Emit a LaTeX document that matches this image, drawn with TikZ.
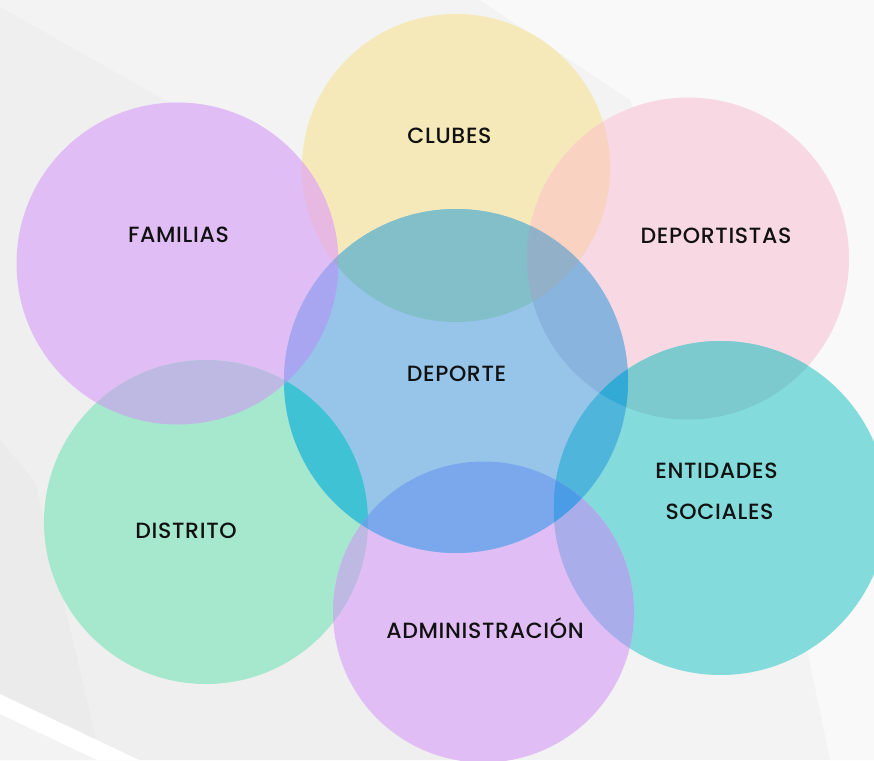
\documentclass[tikz,border=0pt]{standalone}
\usepackage{fontspec}
\setmainfont{Poppins}
\newfontfamily\lblfont{Poppins Medium}[LetterSpace=3]
\definecolor{bgA}{HTML}{F3F3F3}
\definecolor{bgDark}{HTML}{EFEFEF}
\definecolor{bgDarker}{HTML}{EBEBEB}
\definecolor{bgLight}{HTML}{F9F9F9}
\definecolor{cClub}{HTML}{F5E9BA}
\definecolor{cDepo}{HTML}{F7D8E3}
\definecolor{cFam}{HTML}{E1BDF5}
\definecolor{cDep}{HTML}{96C5E9}
\definecolor{cDist}{HTML}{A6E8CE}
\definecolor{cEnt}{HTML}{84DBDB}
\definecolor{cAdm}{HTML}{E1BDF5}
\definecolor{pClubFam}{HTML}{E6B8E2}
\definecolor{pClubDepo}{HTML}{F9D2C1}
\definecolor{pClubDep}{HTML}{83BFC8}
\definecolor{pFamDep}{HTML}{A8A6F0}
\definecolor{pDepoDep}{HTML}{88B4DE}
\definecolor{pFamDist}{HTML}{BEB9E3}
\definecolor{pDepDist}{HTML}{3FC3D4}
\definecolor{pDepoEnt}{HTML}{7CC9CE}
\definecolor{pDepEnt}{HTML}{4FB5DB}
\definecolor{pDepAdm}{HTML}{7BA7EC}
\definecolor{pDistAdm}{HTML}{BEB9E2}
\definecolor{pAdmEnt}{HTML}{A9AEEA}
\definecolor{tClubDepoDep}{HTML}{92B1C9}
\definecolor{tClubFamDep}{HTML}{9FA9D6}
\definecolor{tDepDepoEnt}{HTML}{33AAD6}
\definecolor{tDepAdmEnt}{HTML}{4B9CE6}
\definecolor{tDepDistAdm}{HTML}{62A6E4}
\definecolor{tDepFamDist}{HTML}{7FB0E0}
\definecolor{txt}{HTML}{111111}
\def\cirClub{(456,168) circle (154)}
\def\cirDepo{(688,258.5) circle (161)}
\def\cirFam{(177.5,263.5) circle (161)}
\def\cirDep{(456,381) circle (172)}
\def\cirDist{(206,522) circle (162)}
\def\cirEnt{(720.5,508) circle (167)}
\def\cirAdm{(483.5,612) circle (150.5)}
\begin{document}
\begin{tikzpicture}[x=0.03cm,y=-0.03cm,
  lbl/.style={font=\lblfont\fontsize{18.8}{22}\selectfont, text=txt, align=center, inner sep=0pt}]
% background
\fill[bgA] (0,0) rectangle (874,760);
\fill[bgDark] (0,7) -- (474,275) -- (474,760) -- (0,760) -- cycle;
\fill[bgDarker] (0,440) -- (35,482) -- (97,742) -- (0,697) -- cycle;
\fill[bgA] (0,713) -- (97,760) -- (0,760) -- cycle;
\fill[bgLight] (480,0) -- (874,0) -- (874,760) -- (830,760) -- (760,420) -- (630,100) -- cycle;
\fill[white] (0,694) -- (139,760) -- (97,760) -- (0,714) -- cycle;
\useasboundingbox (0,0) rectangle (874,760);
\clip (0,0) rectangle (874,760);
% single circles
\fill[cClub] \cirClub;
\fill[cDepo] \cirDepo;
\fill[cFam] \cirFam;
\fill[cDist] \cirDist;
\fill[cEnt] \cirEnt;
\fill[cAdm] \cirAdm;
\fill[cDep] \cirDep;
% pairwise overlaps
\begin{scope}\clip \cirClub; \fill[pClubFam] \cirFam; \end{scope}
\begin{scope}\clip \cirClub; \fill[pClubDepo] \cirDepo; \end{scope}
\begin{scope}\clip \cirClub; \fill[pClubDep] \cirDep; \end{scope}
\begin{scope}\clip \cirFam; \fill[pFamDep] \cirDep; \end{scope}
\begin{scope}\clip \cirDepo; \fill[pDepoDep] \cirDep; \end{scope}
\begin{scope}\clip \cirFam; \fill[pFamDist] \cirDist; \end{scope}
\begin{scope}\clip \cirDep; \fill[pDepDist] \cirDist; \end{scope}
\begin{scope}\clip \cirDepo; \fill[pDepoEnt] \cirEnt; \end{scope}
\begin{scope}\clip \cirDep; \fill[pDepEnt] \cirEnt; \end{scope}
\begin{scope}\clip \cirDep; \fill[pDepAdm] \cirAdm; \end{scope}
\begin{scope}\clip \cirDist; \fill[pDistAdm] \cirAdm; \end{scope}
\begin{scope}\clip \cirAdm; \fill[pAdmEnt] \cirEnt; \end{scope}
% triple overlaps
\begin{scope}\clip \cirClub; \clip \cirDepo; \fill[tClubDepoDep] \cirDep; \end{scope}
\begin{scope}\clip \cirClub; \clip \cirFam; \fill[tClubFamDep] \cirDep; \end{scope}
\begin{scope}\clip \cirDep; \clip \cirDepo; \fill[tDepDepoEnt] \cirEnt; \end{scope}
\begin{scope}\clip \cirDep; \clip \cirAdm; \fill[tDepAdmEnt] \cirEnt; \end{scope}
\begin{scope}\clip \cirDep; \clip \cirDist; \fill[tDepDistAdm] \cirAdm; \end{scope}
\begin{scope}\clip \cirDep; \clip \cirFam; \fill[tDepFamDist] \cirDist; \end{scope}
% labels
\node[lbl] (clubes) at (449.5,136) {CLUBES};
\node[lbl] (familias) at (178.5,235) {FAMILIAS};
\node[lbl] (deportistas) at (716,236) {DEPORTISTAS};
\node[lbl] (deporte) at (456.5,374) {DEPORTE};
\node[lbl] (entidades) at (716.5,471) {ENTIDADES};
\node[lbl] (sociales) at (719.5,512) {SOCIALES};
\node[lbl] (distrito) at (186,531) {DISTRITO};
\node[lbl] (admin) at (485,628) {ADMINISTRACIÓN};
\end{tikzpicture}
\end{document}
